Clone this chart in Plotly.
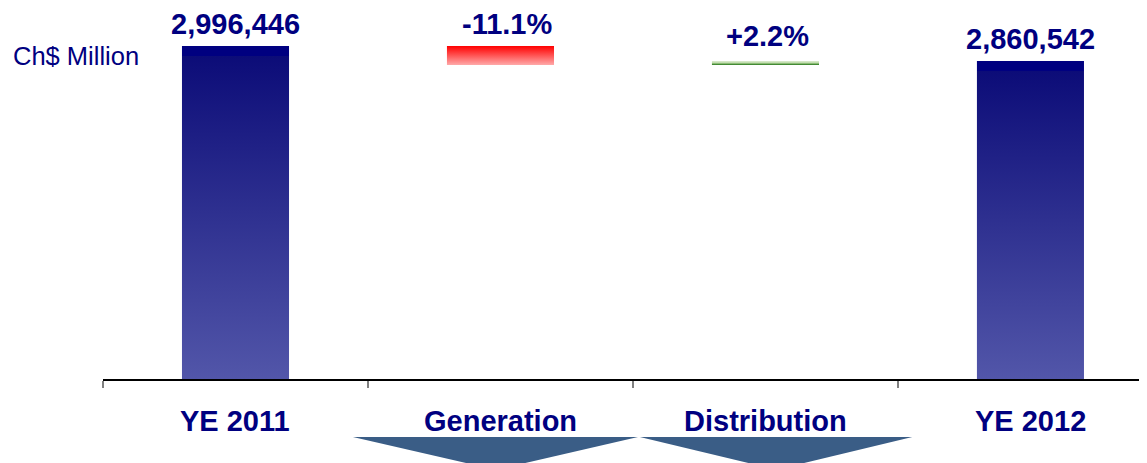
import plotly.graph_objects as go

# ---- data ----
categories = ["YE 2011", "Generation", "Distribution", "YE 2012"]
start_value = 2996446
changes = [-172000, 36096]          # Generation, Distribution (Ch$ Million)
end_value = 2860542
change_labels = ["-11.1%", "+2.2%"]
unit_label = "Ch$ Million"

# ---- styles ----
NAVY = "#000080"
FONT = "Arial, Liberation Sans, sans-serif"
BAR_W = 0.404
blue_scale = [[0, "#5256a9"], [0.97, "#0c0c78"], [0.97, NAVY], [1, NAVY]]
red_scale = [[0, "#ffaaaa"], [1, "#ff0000"]]
green_scale = [[0, "#2f7a25"], [0.35, "#5fa04a"], [0.45, "#b5d6a0"], [1, "#dcebd0"]]

# waterfall geometry from data
bases = [0]
heights = [start_value]
level = start_value
for c in changes:
    lo = min(level, level + c)
    bases.append(lo)
    heights.append(abs(c))
    level += c
bases.append(0)
heights.append(end_value)
scales = [blue_scale, red_scale, green_scale, blue_scale]

fig = go.Figure()
for i, (b, h, sc) in enumerate(zip(bases, heights, scales)):
    x0, x1 = i - BAR_W / 2, i + BAR_W / 2
    fig.add_trace(go.Scatter(
        x=[x0, x1, x1, x0, x0],
        y=[b, b, b + h, b + h, b],
        mode="none", fill="toself",
        fillgradient=dict(type="vertical", colorscale=sc),
        hoverinfo="skip", showlegend=False,
    ))

# value labels
tops = [b + h for b, h in zip(bases, heights)]
labels = [f"{start_value:,}"] + change_labels + [f"{end_value:,}"]
xshifts = [0, 7, 2, 0]
yshifts = [4, 4, 7, 4]
for i, (t, lab) in enumerate(zip(tops, labels)):
    fig.add_annotation(x=i, y=t, text=f"<b>{lab}</b>", showarrow=False,
                       yanchor="bottom", yshift=yshifts[i], xshift=xshifts[i],
                       font=dict(family=FONT, size=29, color=NAVY))

# category labels
for i, cat in enumerate(categories):
    fig.add_annotation(x=i, y=0, yref="paper", text=f"<b>{cat}</b>",
                       showarrow=False, yanchor="middle", yshift=-42,
                       font=dict(family=FONT, size=29, color=NAVY))

# unit label
fig.add_annotation(x=0, xref="paper", xanchor="right", xshift=38,
                   y=0.875, yref="paper", yanchor="middle",
                   text=unit_label, showarrow=False,
                   font=dict(family=FONT, size=25.5, color=NAVY))

# decorative down arrows under the change categories
for cx, half in [(0.981, 0.538), (2.04, 0.514)]:
    fig.add_shape(type="path", xref="x", yref="paper",
                  path=f"M {cx - half},-0.157 L {cx + half},-0.157 L {cx},-0.246 Z",
                  fillcolor="#3a5d86", line=dict(width=0), layer="above")

ymax = start_value * 369 / 333
fig.update_layout(
    width=1147, height=463,
    margin=dict(l=95, r=0, t=2, b=92),
    paper_bgcolor="white", plot_bgcolor="white",
    xaxis=dict(range=[-0.5, 3.47], showgrid=False, zeroline=False,
               showline=True, linecolor="black", linewidth=1.5,
               tickvals=[-0.5, 0.5, 1.5, 2.5], ticks="outside", ticklen=7,
               tickcolor="#808080", tickwidth=1.5, showticklabels=False),
    yaxis=dict(range=[0, ymax], visible=False),
)

fig.write_html("out.html")
